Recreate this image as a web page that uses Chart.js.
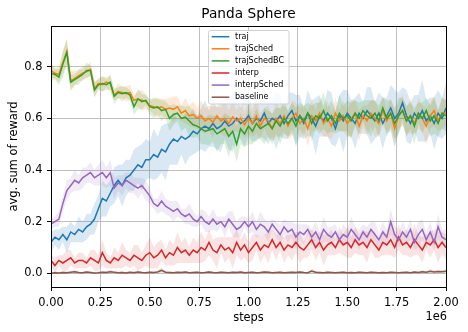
<!DOCTYPE html>
<html>
<head>
<meta charset="utf-8">
<title>Panda Sphere</title>
<script src="https://cdn.jsdelivr.net/npm/chart.js@4.4.0/dist/chart.umd.min.js"></script>
<style>
	body { margin: 0; background: #fff; }
	#wrapper { width: 468px; height: 332px; }
</style>
</head>
<body>
<div id="wrapper"><canvas id="chart" width="468" height="332"></canvas></div>
<script>
/* DATA START --------------------------------*/

const STEP = 20000; // one sample every 20k steps, 0 .. 2e6
const xTicks = [0, 250000, 500000, 750000, 1000000, 1250000, 1500000, 1750000, 2000000];
const yTicks = [0, 0.2, 0.4, 0.6, 0.8];
const labels = ['traj', 'trajSched', 'trajSchedBC', 'interp', 'interpSched', 'baseline'];

const traj = [
	0.12,0.14,0.13,0.15,0.13,0.16,0.15,0.17,0.16,0.18,
	0.19,0.21,0.25,0.29,0.28,0.31,0.34,0.36,0.34,0.37,
	0.38,0.40,0.42,0.41,0.44,0.44,0.46,0.45,0.48,0.47,
	0.50,0.52,0.51,0.53,0.52,0.53,0.55,0.54,0.56,0.57,
	0.56,0.58,0.56,0.57,0.59,0.57,0.58,0.60,0.58,0.59,
	0.61,0.58,0.60,0.59,0.62,0.58,0.60,0.59,0.61,0.58,
	0.61,0.63,0.59,0.61,0.58,0.62,0.60,0.57,0.61,0.59,
	0.62,0.60,0.56,0.61,0.59,0.62,0.60,0.58,0.62,0.60,
	0.63,0.61,0.59,0.62,0.58,0.61,0.64,0.60,0.62,0.66,
	0.61,0.58,0.62,0.60,0.63,0.59,0.61,0.58,0.62,0.60,
	0.64
];
const trajSched = [
	0.785,0.775,0.77,0.815,0.86,0.745,0.755,0.765,0.775,0.78,
	0.79,0.715,0.735,0.73,0.74,0.735,0.69,0.705,0.70,0.695,
	0.70,0.67,0.675,0.67,0.665,0.65,0.645,0.64,0.645,0.635,
	0.64,0.635,0.645,0.62,0.63,0.61,0.615,0.60,0.61,0.59,
	0.60,0.585,0.61,0.59,0.60,0.58,0.605,0.59,0.60,0.575,
	0.60,0.58,0.61,0.57,0.60,0.59,0.56,0.60,0.58,0.61,
	0.57,0.60,0.62,0.58,0.60,0.56,0.61,0.59,0.62,0.58,
	0.60,0.57,0.62,0.59,0.61,0.58,0.60,0.62,0.57,0.61,
	0.59,0.62,0.60,0.58,0.63,0.59,0.62,0.56,0.61,0.63,
	0.59,0.61,0.58,0.62,0.60,0.57,0.61,0.63,0.59,0.62,
	0.62
];
const trajSchedBC = [
	0.775,0.77,0.76,0.81,0.855,0.74,0.75,0.76,0.77,0.785,
	0.785,0.71,0.73,0.735,0.73,0.74,0.685,0.70,0.695,0.70,
	0.69,0.645,0.675,0.665,0.67,0.645,0.64,0.645,0.63,0.635,
	0.60,0.615,0.62,0.60,0.605,0.59,0.575,0.57,0.56,0.55,
	0.555,0.56,0.54,0.55,0.56,0.53,0.55,0.50,0.56,0.54,
	0.57,0.55,0.58,0.56,0.57,0.58,0.56,0.59,0.57,0.60,
	0.58,0.60,0.57,0.61,0.59,0.62,0.58,0.61,0.60,0.63,
	0.59,0.61,0.58,0.62,0.60,0.61,0.59,0.62,0.60,0.63,
	0.61,0.60,0.62,0.59,0.64,0.60,0.62,0.58,0.61,0.63,
	0.59,0.61,0.57,0.62,0.60,0.63,0.59,0.61,0.58,0.62,
	0.61
];
const interp = [
	0.05,0.03,0.05,0.04,0.05,0.06,0.04,0.05,0.05,0.04,
	0.06,0.05,0.04,0.08,0.05,0.04,0.06,0.05,0.07,0.06,
	0.05,0.07,0.06,0.05,0.07,0.08,0.06,0.07,0.09,0.06,
	0.08,0.07,0.10,0.08,0.09,0.07,0.09,0.08,0.10,0.09,
	0.12,0.09,0.08,0.11,0.09,0.10,0.08,0.12,0.09,0.11,
	0.08,0.10,0.12,0.09,0.11,0.10,0.13,0.10,0.12,0.09,
	0.11,0.10,0.12,0.10,0.09,0.11,0.13,0.10,0.12,0.09,
	0.11,0.12,0.10,0.13,0.11,0.12,0.10,0.13,0.11,0.12,
	0.10,0.13,0.11,0.09,0.12,0.11,0.13,0.10,0.14,0.11,
	0.12,0.10,0.13,0.11,0.09,0.12,0.11,0.13,0.10,0.12,
	0.10
];
const interpSched = [
	0.19,0.20,0.21,0.27,0.32,0.34,0.36,0.35,0.37,0.38,
	0.39,0.37,0.38,0.39,0.37,0.39,0.33,0.35,0.34,0.36,
	0.35,0.34,0.33,0.34,0.32,0.30,0.27,0.26,0.28,0.26,
	0.25,0.24,0.25,0.23,0.22,0.23,0.21,0.20,0.22,0.20,
	0.19,0.21,0.19,0.20,0.18,0.21,0.19,0.17,0.18,0.20,
	0.18,0.20,0.17,0.19,0.18,0.16,0.19,0.17,0.15,0.18,
	0.16,0.17,0.14,0.16,0.15,0.17,0.14,0.16,0.13,0.17,
	0.15,0.14,0.16,0.13,0.15,0.14,0.17,0.15,0.13,0.16,
	0.14,0.17,0.15,0.13,0.16,0.14,0.20,0.15,0.13,0.16,
	0.14,0.17,0.12,0.15,0.17,0.13,0.16,0.12,0.18,0.14,
	0.13
];
const baseline = [
	0.000,0.002,0.001,0.003,0.002,0.004,0.006,0.003,0.002,0.005,
	0.003,0.001,0.002,0.004,0.003,0.006,0.004,0.002,0.003,0.001,
	0.004,0.002,0.005,0.003,0.002,0.004,0.003,0.005,0.012,0.004,
	0.003,0.002,0.004,0.003,0.005,0.002,0.003,0.004,0.002,0.003,
	0.005,0.003,0.002,0.004,0.003,0.002,0.004,0.003,0.005,0.002,
	0.003,0.004,0.002,0.003,0.005,0.004,0.002,0.003,0.004,0.002,
	0.003,0.004,0.003,0.005,0.003,0.002,0.009,0.004,0.003,0.002,
	0.004,0.003,0.002,0.003,0.004,0.002,0.003,0.002,0.004,0.003,
	0.002,0.004,0.003,0.002,0.003,0.002,0.004,0.003,0.002,0.003,
	0.004,0.002,0.005,0.003,0.006,0.004,0.008,0.005,0.007,0.006,
	0.008
];

// half width of the shaded band around each mean
const trajSpread = [
	0.04,0.03,0.04,0.03,0.05,0.04,0.03,0.05,0.04,0.05,
	0.04,0.06,0.05,0.07,0.06,0.05,0.07,0.06,0.08,0.07,
	0.06,0.08,0.07,0.09,0.08,0.07,0.10,0.08,0.09,0.11,
	0.08,0.10,0.09,0.07,0.10,0.08,0.09,0.07,0.08,0.10,
	0.07,0.09,0.08,0.10,0.07,0.09,0.11,0.08,0.06,0.10,
	0.08,0.07,0.09,0.06,0.10,0.08,0.07,0.11,0.08,0.06,
	0.09,0.07,0.10,0.08,0.06,0.09,0.07,0.11,0.08,0.06,
	0.09,0.10,0.07,0.08,0.12,0.09,0.07,0.10,0.08,0.06,
	0.09,0.11,0.07,0.08,0.10,0.07,0.09,0.11,0.08,0.06,
	0.10,0.08,0.07,0.09,0.12,0.08,0.07,0.10,0.09,0.08,
	0.10
];
const trajSchedSpread = [
	0.03,0.02,0.03,0.04,0.05,0.04,0.03,0.02,0.03,0.02,
	0.03,0.03,0.02,0.03,0.02,0.03,0.02,0.03,0.02,0.03,
	0.03,0.02,0.03,0.04,0.03,0.02,0.03,0.04,0.03,0.04,
	0.04,0.05,0.04,0.03,0.05,0.04,0.05,0.04,0.06,0.05,
	0.05,0.06,0.04,0.05,0.07,0.05,0.06,0.04,0.06,0.05,
	0.06,0.05,0.07,0.05,0.04,0.06,0.05,0.07,0.05,0.06,
	0.05,0.07,0.04,0.06,0.05,0.07,0.06,0.04,0.06,0.05,
	0.07,0.05,0.06,0.04,0.06,0.05,0.07,0.05,0.06,0.04,
	0.06,0.05,0.07,0.05,0.06,0.04,0.06,0.07,0.05,0.06,
	0.05,0.07,0.04,0.06,0.05,0.07,0.05,0.06,0.04,0.06,
	0.05
];
const trajSchedBCSpread = [
	0.03,0.02,0.03,0.05,0.05,0.03,0.02,0.03,0.02,0.03,
	0.02,0.03,0.02,0.03,0.02,0.03,0.03,0.02,0.03,0.02,
	0.02,0.03,0.04,0.03,0.02,0.03,0.04,0.03,0.04,0.03,
	0.05,0.04,0.03,0.05,0.04,0.06,0.05,0.04,0.06,0.05,
	0.06,0.05,0.07,0.05,0.06,0.08,0.05,0.07,0.06,0.05,
	0.07,0.05,0.06,0.04,0.07,0.05,0.06,0.05,0.07,0.06,
	0.05,0.06,0.07,0.05,0.06,0.04,0.07,0.05,0.06,0.07,
	0.05,0.06,0.04,0.07,0.05,0.06,0.07,0.05,0.06,0.04,
	0.06,0.07,0.05,0.06,0.04,0.07,0.05,0.06,0.07,0.05,
	0.06,0.05,0.07,0.04,0.06,0.05,0.06,0.07,0.05,0.06,
	0.06
];
const interpSpread = [
	0.02,0.03,0.02,0.03,0.04,0.03,0.02,0.03,0.03,0.02,
	0.03,0.04,0.03,0.05,0.03,0.02,0.04,0.03,0.05,0.03,
	0.03,0.04,0.05,0.03,0.04,0.06,0.04,0.05,0.04,0.03,
	0.05,0.04,0.06,0.04,0.05,0.03,0.05,0.04,0.06,0.04,
	0.05,0.04,0.06,0.03,0.05,0.04,0.06,0.05,0.04,0.05,
	0.04,0.05,0.03,0.05,0.04,0.06,0.04,0.05,0.03,0.05,
	0.04,0.05,0.04,0.06,0.03,0.05,0.04,0.05,0.04,0.06,
	0.04,0.05,0.03,0.05,0.04,0.06,0.04,0.05,0.04,0.05,
	0.06,0.04,0.05,0.03,0.05,0.04,0.06,0.04,0.05,0.04,
	0.05,0.04,0.06,0.04,0.05,0.03,0.05,0.04,0.06,0.04,
	0.05
];
const interpSchedSpread = [
	0.02,0.02,0.03,0.03,0.04,0.03,0.04,0.03,0.04,0.03,
	0.04,0.03,0.04,0.05,0.04,0.05,0.04,0.03,0.04,0.03,
	0.04,0.03,0.04,0.03,0.04,0.03,0.02,0.03,0.04,0.03,
	0.03,0.04,0.03,0.02,0.03,0.04,0.03,0.02,0.03,0.04,
	0.03,0.04,0.03,0.02,0.04,0.03,0.05,0.03,0.04,0.02,
	0.03,0.04,0.03,0.05,0.03,0.04,0.02,0.03,0.04,0.03,
	0.04,0.03,0.05,0.03,0.04,0.02,0.03,0.04,0.03,0.05,
	0.03,0.04,0.03,0.02,0.04,0.03,0.05,0.03,0.04,0.03,
	0.04,0.03,0.05,0.03,0.04,0.03,0.05,0.04,0.03,0.04,
	0.03,0.04,0.03,0.05,0.04,0.03,0.04,0.03,0.05,0.03,
	0.04
];
const baselineSpread = [
	0.004,0.005,0.003,0.006,0.004,0.005,0.007,0.004,0.003,0.005,
	0.004,0.003,0.005,0.004,0.006,0.007,0.004,0.003,0.005,0.004,
	0.005,0.004,0.006,0.004,0.003,0.005,0.004,0.006,0.010,0.005,
	0.004,0.003,0.005,0.004,0.006,0.003,0.004,0.005,0.003,0.004,
	0.006,0.004,0.003,0.005,0.004,0.003,0.005,0.004,0.006,0.003,
	0.004,0.005,0.003,0.004,0.006,0.005,0.003,0.004,0.005,0.003,
	0.004,0.005,0.004,0.006,0.004,0.003,0.008,0.005,0.004,0.003,
	0.005,0.004,0.003,0.004,0.005,0.003,0.004,0.003,0.005,0.004,
	0.003,0.005,0.004,0.003,0.004,0.003,0.005,0.004,0.003,0.004,
	0.005,0.003,0.006,0.004,0.007,0.005,0.008,0.006,0.007,0.006,
	0.007
];

/* DATA END --------------------------------*/

const means = [traj, trajSched, trajSchedBC, interp, interpSched, baseline];
const spreads = [trajSpread, trajSchedSpread, trajSchedBCSpread, interpSpread, interpSchedSpread, baselineSpread];
const colors = ['#1f77b4', '#ff7f0e', '#2ca02c', '#d62728', '#9467bd', '#8c564b'];
const bandColors = [
	'rgba(31,119,180,0.17)', 'rgba(255,127,14,0.17)', 'rgba(44,160,44,0.17)',
	'rgba(214,39,40,0.13)', 'rgba(148,103,189,0.13)', 'rgba(140,86,75,0.17)'
];
const FONT = '"DejaVu Sans", sans-serif';

function toPoints(values, spread, sign) {
	return values.map(function(v, i) {
		return { x: i * STEP, y: spread ? v + sign * spread[i] : v };
	});
}

function buildDatasets() {
	const sets = [];
	// shaded bands first, under every line (high order = drawn first)
	means.forEach(function(m, k) {
		sets.push({ label: '', data: toPoints(m, spreads[k], -1), borderWidth: 0, pointRadius: 0, fill: false, order: 40 - k });
		sets.push({ label: '', data: toPoints(m, spreads[k], 1), borderWidth: 0, pointRadius: 0,
			fill: '-1', backgroundColor: bandColors[k], order: 40 - k });
	});
	means.forEach(function(m, k) {
		sets.push({ label: labels[k], data: toPoints(m), borderColor: colors[k], borderWidth: 1.5,
			pointRadius: 0, fill: false, tension: 0, order: 10 - k });
	});
	return sets;
}

// title, top/right spines, offset text and the matplotlib-like legend box
const decorPlugin = {
	id: 'decor',
	afterDraw: function(chart) {
		const ctx = chart.ctx;
		const a = chart.chartArea;
		ctx.save();

		ctx.strokeStyle = '#000';
		ctx.lineWidth = 1;
		ctx.strokeRect(a.left + 0.5, a.top + 0.5, a.right - a.left, a.bottom - a.top);

		ctx.fillStyle = '#000';
		ctx.font = '13.7px ' + FONT;
		ctx.textAlign = 'center';
		ctx.textBaseline = 'middle';
		ctx.fillText('Panda Sphere', (a.left + a.right) / 2, 14);

		ctx.font = '11.4px ' + FONT;
		ctx.textAlign = 'right';
		ctx.textBaseline = 'alphabetic';
		ctx.fillText('1e6', a.right + 1, 319.5);

		// legend
		const bx = 208.5, by = 30.5, bw = 80.5, bh = 73.5;
		ctx.beginPath();
		ctx.roundRect(bx, by, bw, bh, 2);
		ctx.fillStyle = 'rgba(255,255,255,0.8)';
		ctx.fill();
		ctx.strokeStyle = '#d0d0d0';
		ctx.lineWidth = 1;
		ctx.stroke();

		ctx.font = '8px ' + FONT;
		ctx.textAlign = 'left';
		ctx.textBaseline = 'middle';
		labels.forEach(function(lab, k) {
			const y = 36.7 + k * 12.1;
			ctx.beginPath();
			ctx.moveTo(211.7, y);
			ctx.lineTo(229.3, y);
			ctx.strokeStyle = colors[k];
			ctx.lineWidth = 1.5;
			ctx.stroke();
			ctx.fillStyle = '#000';
			ctx.fillText(lab, 235, y);
		});
		ctx.restore();
	}
};

function drawChart() {
	const ctx = document.getElementById('chart').getContext('2d');
	const tickFont = { family: FONT, size: 11.4 };

	new Chart(ctx, {
		type: 'line',
		data: { datasets: buildDatasets() },
		options: {
			responsive: false,
			animation: false,
			events: [],
			layout: { padding: { left: 0, top: 26, right: 22, bottom: 0 } },
			plugins: {
				legend: { display: false },
				tooltip: { enabled: false },
				title: { display: false }
			},
			scales: {
				x: {
					type: 'linear',
					min: 0,
					max: 2000000,
					afterBuildTicks: function(scale) {
						scale.ticks = xTicks.map(function(v) { return { value: v }; });
					},
					afterFit: function(scale) { scale.height = 45; },
					ticks: {
						font: tickFont,
						color: '#000',
						padding: 5.5,
						maxRotation: 0,
						autoSkip: false,
						callback: function(v) { return (v / 1e6).toFixed(2); }
					},
					grid: { color: '#b0b0b0', lineWidth: 0.8, tickColor: '#000', tickLength: 4, tickWidth: 1 },
					border: { display: false },
					title: { display: true, text: 'steps', color: '#000', font: tickFont, padding: { top: 0, bottom: 7.4 } }
				},
				y: {
					type: 'linear',
					min: -0.053,
					max: 0.9576,
					afterBuildTicks: function(scale) {
						scale.ticks = yTicks.map(function(v) { return { value: v }; });
					},
					afterFit: function(scale) { scale.width = 51; },
					ticks: {
						font: tickFont,
						color: '#000',
						padding: 4.6,
						callback: function(v) { return v.toFixed(1); }
					},
					grid: { color: '#b0b0b0', lineWidth: 0.8, tickColor: '#000', tickLength: 4, tickWidth: 1 },
					border: { display: false },
					title: { display: true, text: 'avg. sum of reward', color: '#000', font: tickFont, padding: { top: 7.2, bottom: 0 } }
				}
			}
		},
		plugins: [decorPlugin]
	});
}

document.addEventListener('DOMContentLoaded', drawChart);
</script>
</body>
</html>
